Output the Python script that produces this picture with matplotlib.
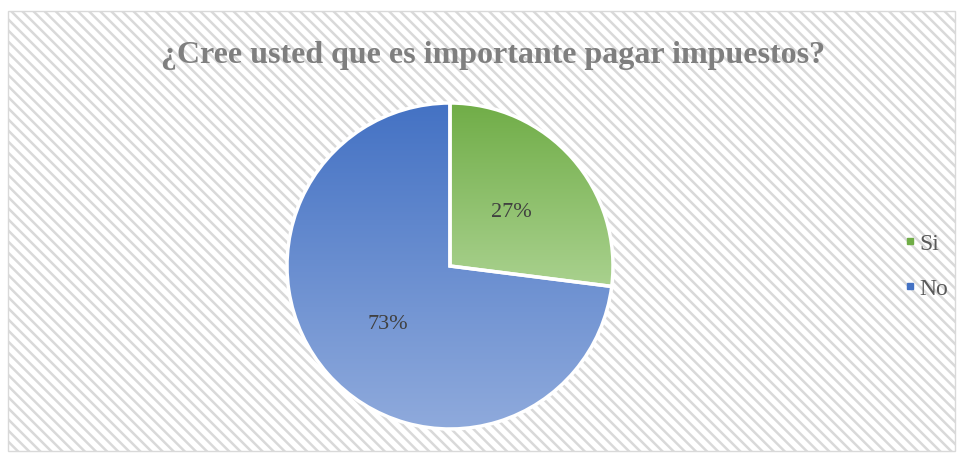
import numpy as np
import matplotlib
matplotlib.use("Agg")
import matplotlib.pyplot as plt
from matplotlib.patches import Rectangle
from matplotlib.colors import LinearSegmentedColormap
from matplotlib.lines import Line2D

titulo = "¿Cree usted que es importante pagar impuestos?"
categorias = ["Si", "No"]
valores = [27, 73]
etiquetas = ["27%", "73%"]
tonos = [("#70AD47", "#A9D18E"), ("#4472C4", "#8FAADC")]
colores_leyenda = ["#70AD47", "#4472C4"]

plt.rcParams["font.family"] = ["Liberation Serif", "DejaVu Serif"]
plt.rcParams["hatch.linewidth"] = 1.8
plt.rcParams["hatch.color"] = "#e6e6e6"

W, H = 963, 456
fig = plt.figure(figsize=(W / 100, H / 100), dpi=100)
fig.patch.set_facecolor("white")

# fondo rayado del area del grafico
fondo = Rectangle((8 / W, 1 - 452 / H), (955 - 8) / W, (452 - 12) / H,
                  transform=fig.transFigure, facecolor="white",
                  edgecolor="#d9d9d9", hatch="\\\\\\", linewidth=1, zorder=-5)
fig.patches.append(fondo)

fig.text(493 / W, 1 - 55 / H, titulo, ha="center", va="center",
         fontsize=23, fontweight="bold", color="#7f7f7f")

# eje del pastel
cx, cy, r = 450, 267, 163
m = 175
ax = fig.add_axes([(cx - m) / W, (H - cy - m) / H, 2 * m / W, 2 * m / H], zorder=2)
ax.patch.set_visible(False)

wedges, _ = ax.pie(valores, startangle=90, counterclock=False, radius=1,
                   wedgeprops=dict(edgecolor="white", linewidth=2.5, facecolor="none"))

for w, (c1, c2) in zip(wedges, tonos):
    bb = w.get_path().get_extents(w.get_patch_transform())
    cmap = LinearSegmentedColormap.from_list("g", [c1, c2])
    grad = np.linspace(0, 1, 256).reshape(-1, 1)
    im = ax.imshow(grad, cmap=cmap, aspect="auto",
                   extent=[bb.x0, bb.x1, bb.y0, bb.y1], origin="upper", zorder=1)
    im.set_clip_path(w)
    w.set_zorder(2)

ax.set_xlim(-m / r, m / r)
ax.set_ylim(-m / r, m / r)
ax.axis("off")

ax.text((511 - cx) / r, (cy - 213) / r, etiquetas[0], ha="center", va="center",
        fontsize=16, color="#404040", zorder=3)
ax.text((388 - cx) / r, (cy - 325) / r, etiquetas[1], ha="center", va="center",
        fontsize=16, color="#404040", zorder=3)

manejadores = [Line2D([], [], marker="s", linestyle="none", markersize=5,
                      markerfacecolor=c, markeredgecolor=c) for c in colores_leyenda]
fig.legend(manejadores, categorias, loc="center left",
           bbox_to_anchor=(903 / W, 1 - 267 / H), frameon=False,
           fontsize=17, labelcolor="#595959", handletextpad=0.1,
           labelspacing=1.0, handlelength=0.6, borderpad=0, borderaxespad=0)

fig.savefig("out.png", dpi=100)
